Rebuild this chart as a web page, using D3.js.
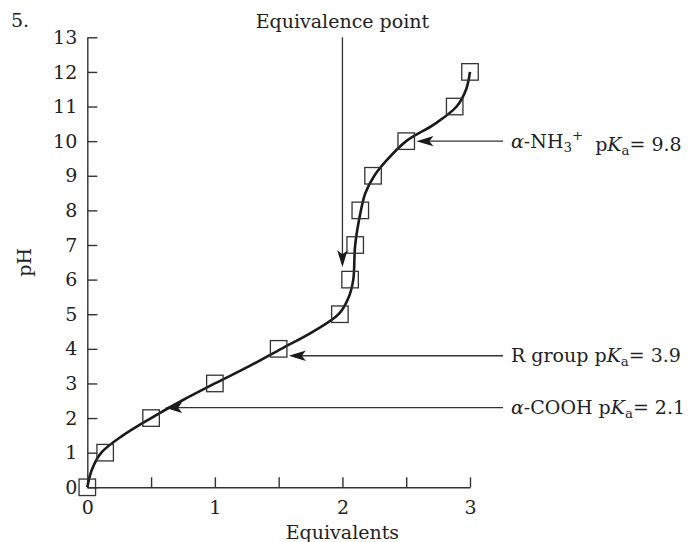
<!DOCTYPE html>
<html>
<head>
<meta charset="utf-8">
<script src="https://cdn.jsdelivr.net/npm/d3@7"></script>
<style>
  body { margin: 0; background: #fff; }
  svg text { font-family: "DejaVu Serif", serif; fill: #222; }
  .axis path, .axis line { stroke: #333; stroke-width: 1.4; }
</style>
</head>
<body>
<div id="chart"></div>
<script>
// measured titration points (squares)
const pointEq = [0, 0.14, 0.5, 1.0, 1.5, 1.98, 2.06, 2.10, 2.14, 2.24, 2.5, 2.88, 3.0];
const pointPH = [0, 1, 2, 3, 4, 5, 6, 7, 8, 9, 10, 11, 12];

// fitted curve
const curvePH = [0, 0.5, 1, 1.5, 2, 2.5, 3, 3.5, 4, 4.5, 5, 5.5, 6, 7, 8, 8.5, 9, 9.5, 10, 10.5, 11, 11.5, 12];
const curveEq = [0, 0.035, 0.11, 0.28, 0.5, 0.74, 1.0, 1.27, 1.52, 1.77, 1.97, 2.05, 2.085, 2.10, 2.145, 2.18, 2.25, 2.36, 2.5, 2.725, 2.895, 2.97, 3.0];

// axis ticks
const yTicks = d3.range(0, 14);
const xTicks = [0, 0.5, 1, 1.5, 2, 2.5, 3];

// arrow annotations: tip position in data units
const pkaLabels = ['nh3', 'r', 'cooh'];
const pkaValues = ['9.8', '3.9', '2.1'];
const pkaTipEq = [2.58, 1.58, 0.61];
const pkaTipPH = [10.0, 3.8, 2.3];
const eqPointEq = 2.0;
const eqPointTop = 13;
const eqPointTip = 6.36;

const width = 693;
const height = 542;
const marginLeft = 87.3;
const marginRight = 223;
const marginTop = 37.3;
const marginBottom = 54.7;
const fontSize = 19;

const x = d3.scaleLinear().domain([0, 3]).range([marginLeft, width - marginRight]);
const y = d3.scaleLinear().domain([0, 13]).range([height - marginBottom, marginTop]);

const $svg = d3.select('#chart').append('svg')
  .attr('width', width)
  .attr('height', height)
  .style('font-size', fontSize + 'px');

// axes
$svg.append('g')
  .attr('class', 'axis')
  .attr('transform', `translate(${x(0)},0)`)
  .call(d3.axisLeft(y).tickValues(yTicks).tickSize(-10).tickSizeOuter(0).tickPadding(10))
  .call(g => g.selectAll('text').style('font-size', fontSize + 'px').attr('fill', '#222').attr('font-family', null));

$svg.append('g')
  .attr('class', 'axis')
  .attr('transform', `translate(0,${y(0)})`)
  .call(d3.axisBottom(x).tickValues(xTicks).tickSize(-10).tickSizeOuter(0).tickPadding(13)
    .tickFormat(d => Number.isInteger(d) ? d : ''))
  .call(g => g.selectAll('text').style('font-size', fontSize + 'px').attr('fill', '#222').attr('font-family', null));

$svg.selectAll('.domain').attr('stroke', '#333');

// axis titles
$svg.append('text')
  .attr('x', x(2))
  .attr('y', 539)
  .attr('text-anchor', 'middle')
  .text('Equivalents');

$svg.append('text')
  .attr('transform', `translate(31,${(y(0) + y(13)) / 2})rotate(-90)`)
  .attr('text-anchor', 'middle')
  .text('pH');

$svg.append('text')
  .attr('x', 11)
  .attr('y', 27)
  .text('5.');

// titration curve
const curveData = curvePH.map((p, i) => [curveEq[i], p]);
$svg.append('path')
  .datum(curveData)
  .attr('fill', 'none')
  .attr('stroke', '#1a1a1a')
  .attr('stroke-width', 2.6)
  .attr('d', d3.line().x(d => x(d[0])).y(d => y(d[1])).curve(d3.curveCatmullRom.alpha(0.5)));

// squares
const sq = 16.5;
$svg.selectAll('.pt')
  .data(pointPH.map((p, i) => ({ eq: pointEq[i], ph: p })))
  .enter()
  .append('rect')
  .attr('class', 'pt')
  .attr('x', d => x(d.eq) - sq / 2)
  .attr('y', d => y(d.ph) - sq / 2)
  .attr('width', sq)
  .attr('height', sq)
  .attr('fill', 'none')
  .attr('stroke', '#333')
  .attr('stroke-width', 1.3);

// arrowhead pointing along angle (deg), tip at (tx, ty)
function arrowHead(tx, ty, angle) {
  $svg.append('path')
    .attr('d', 'M0,0 L-17,-5.2 L-13,0 L-17,5.2 Z')
    .attr('fill', '#1a1a1a')
    .attr('transform', `translate(${tx},${ty})rotate(${angle})`);
}

// equivalence point arrow
$svg.append('line')
  .attr('x1', x(eqPointEq)).attr('x2', x(eqPointEq))
  .attr('y1', y(eqPointTop)).attr('y2', y(eqPointTip) - 12)
  .attr('stroke', '#333').attr('stroke-width', 1.3);
arrowHead(x(eqPointEq), y(eqPointTip), 90);

$svg.append('text')
  .attr('x', x(eqPointEq))
  .attr('y', 28)
  .attr('text-anchor', 'middle')
  .text('Equivalence point');

// pKa arrows
const lineEnd = 503;
pkaLabels.forEach((key, i) => {
  const tx = x(pkaTipEq[i]);
  const ty = y(pkaTipPH[i]);
  $svg.append('line')
    .attr('x1', tx + 12).attr('x2', lineEnd)
    .attr('y1', ty).attr('y2', ty)
    .attr('stroke', '#333').attr('stroke-width', 1.3);
  arrowHead(tx, ty, 180);

  const t = $svg.append('text')
    .attr('x', 511)
    .attr('y', ty)
    .attr('dy', '0.35em');

  if (key === 'nh3') {
    t.append('tspan').attr('font-style', 'italic').text('α');
    t.append('tspan').text('-NH');
    t.append('tspan').attr('font-size', '0.7em').attr('dy', '0.3em').text('3');
    t.append('tspan').attr('font-size', '0.7em').attr('dy', '-0.85em').text('+');
    t.append('tspan').attr('dy', '0.55em').text('\u00a0 p');
  } else if (key === 'r') {
    t.append('tspan').text('R group p');
  } else {
    t.append('tspan').attr('font-style', 'italic').text('α');
    t.append('tspan').text('-COOH p');
  }
  t.append('tspan').attr('font-style', 'italic').text('K');
  t.append('tspan').attr('font-size', '0.7em').attr('dy', '0.3em').text('a');
  t.append('tspan').attr('dy', '-0.21em').text('= ' + pkaValues[i]);
});
</script>
</body>
</html>
